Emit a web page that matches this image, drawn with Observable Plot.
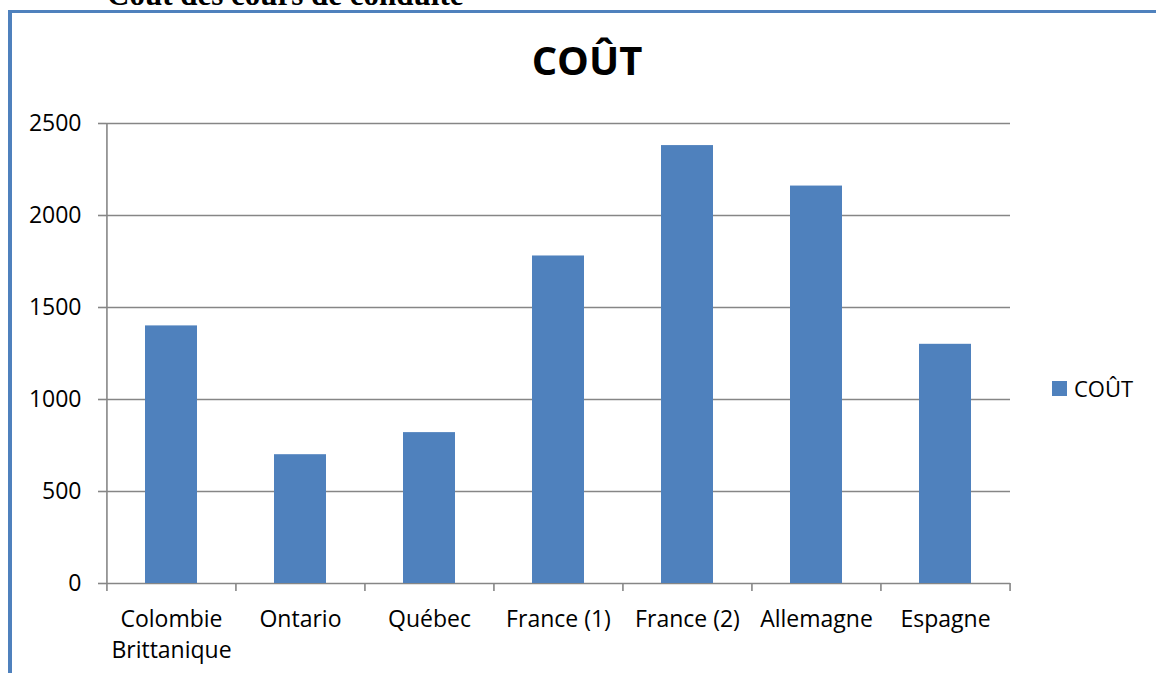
<!DOCTYPE html>
<html>
<head>
<meta charset="utf-8">
<script src="https://cdn.jsdelivr.net/npm/d3@7"></script>
<script src="https://cdn.jsdelivr.net/npm/@observablehq/plot@0.6"></script>
<style>
  html, body { margin: 0; padding: 0; background: #fff; overflow: hidden; }
  #wrap { position: relative; width: 1156px; height: 673px; }
  #wrap svg { position: absolute; left: 0; top: 0; }
  .doc-title { position: absolute; left: 107px; top: -21px; font-family: "Liberation Serif", serif; font-weight: bold; font-size: 31px; line-height: 31px; white-space: nowrap; color: #000; }
  .border-top { position: absolute; left: 8px; top: 10px; width: 1148px; height: 3px; background: #4F81BD; }
  .border-left { position: absolute; left: 8px; top: 10px; width: 4px; height: 663px; background: #4F81BD; }
  .chart-title { position: absolute; left: 387px; width: 400px; top: 40px; text-align: center; font-family: "Open Sans", sans-serif; font-weight: bold; font-size: 40px; line-height: 40px; color: #000; }
  .legend { position: absolute; left: 1052px; top: 372px; font-family: "Open Sans", sans-serif; font-size: 22px; line-height: 32px; display: flex; align-items: center; color: #000; }
  .legend .sw { width: 15px; height: 15px; background: #4F81BD; margin-right: 7px; }
</style>
</head>
<body>
<div id="wrap">
  <div class="doc-title">Coût des cours de conduite</div>
  <div class="border-top"></div>
  <div class="border-left"></div>
  <div class="chart-title">COÛT</div>
  <div class="legend"><div class="sw"></div><span>COÛT</span></div>
</div>
<script>
const categories = ["Colombie Brittanique", "Ontario", "Québec", "France (1)", "France (2)", "Allemagne", "Espagne"];
const tickLabels = ["Colombie\nBrittanique", "Ontario", "Québec", "France (1)", "France (2)", "Allemagne", "Espagne"];
const values = [1400, 700, 820, 1780, 2380, 2160, 1300];
const yTicks = [0, 500, 1000, 1500, 2000, 2500];
const seriesName = "COÛT";

const data = categories.map((c, i) => ({cat: c, value: values[i]}));
const labelOf = new Map(categories.map((c, i) => [c, tickLabels[i]]));

const W = 1156, H = 673;
const mL = 106, mR = 146, mT = 123, mB = 90;
const step = (W - mL - mR) / categories.length;
const gridColor = "#868686";

const chart = Plot.plot({
  width: W,
  height: H,
  marginLeft: mL,
  marginRight: mR,
  marginTop: mT,
  marginBottom: mB,
  style: {fontFamily: "Open Sans, sans-serif", fontSize: "23px", color: "#000", background: "transparent"},
  x: {domain: categories, paddingInner: 0.6, paddingOuter: 0.3, label: null},
  y: {domain: [0, 2500], label: null},
  marks: [
    Plot.gridY(yTicks, {stroke: gridColor, strokeOpacity: 1, strokeWidth: 1.6}),
    Plot.barY(data, {x: "cat", y: "value", fill: "#4F81BD"}),
    Plot.ruleX([categories[0]], {dx: -step / 2, y1: 0, y2: 2500, stroke: gridColor, strokeWidth: 1.6}),
    Plot.axisY(yTicks, {tickSize: 8, tickPadding: 17, stroke: gridColor, strokeWidth: 1.6, tickFormat: d => String(d), label: null}),
    Plot.axisX({tickSize: 0, tickPadding: 21, lineHeight: 1.35, tickFormat: d => labelOf.get(d), label: null}),
    Plot.axisX({tickSize: 8, text: null, dx: -step / 2, stroke: gridColor, strokeWidth: 1.6, label: null}),
    Plot.axisX([categories[categories.length - 1]], {tickSize: 8, text: null, dx: step / 2, stroke: gridColor, strokeWidth: 1.6, label: null})
  ]
});
document.getElementById("wrap").prepend(chart);
</script>
</body>
</html>
